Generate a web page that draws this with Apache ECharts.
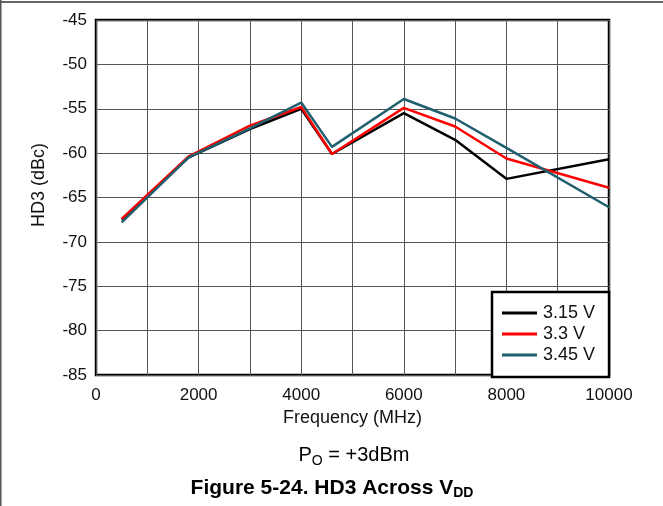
<!DOCTYPE html>
<html>
<head>
<meta charset="utf-8">
<script src="https://cdn.jsdelivr.net/npm/echarts@6/dist/echarts.min.js"></script>
<style>
html,body{margin:0;padding:0;background:#fff;}
#chart{width:663px;height:506px;}
</style>
</head>
<body>
<div id="chart"></div>
<script>
// Data
const freqMHz = [500, 1800, 3000, 4000, 4600, 6000, 7000, 8000, 10000];
const hd3_315 = [-67.5, -60.5, -57.3, -55.0, -60.1, -55.5, -58.5, -62.9, -60.7];
const hd3_330 = [-67.4, -60.4, -56.9, -54.8, -60.1, -54.9, -57.0, -60.6, -63.9];
const hd3_345 = [-67.8, -60.5, -57.2, -54.3, -59.3, -53.9, -56.1, -59.4, -66.1];
const seriesNames = ['3.15 V', '3.3 V', '3.45 V'];
const xTickLabels = [0, 2000, 4000, 6000, 8000, 10000];
const yTickLabels = [-85, -80, -75, -70, -65, -60, -55, -50, -45];

const colors = ['#000000', '#ff0000', '#1f5f6e'];
const font = '"Liberation Sans", Arial, sans-serif';

function pairs(ys) { return freqMHz.map((x, i) => [x, ys[i]]); }

const chart = echarts.init(document.getElementById('chart'), null, {renderer: 'canvas'});
const option = {
  animation: false,
  backgroundColor: '#fff',
  textStyle: {fontFamily: font},
  grid: {left: 96, right: 54, top: 20, bottom: 131, show: true,
         borderColor: '#000', borderWidth: 2.5, backgroundColor: 'transparent'},
  xAxis: {
    type: 'value', min: 0, max: 10000, interval: 1000,
    axisLine: {show: false}, axisTick: {show: false},
    splitLine: {show: true, lineStyle: {color: '#555', width: 1}},
    axisLabel: {
      fontFamily: font, fontSize: 17, color: '#111', margin: 12,
      formatter: v => xTickLabels.indexOf(v) >= 0 ? String(v) : ''
    },
    name: 'Frequency (MHz)', nameLocation: 'middle', nameGap: 31,
    nameTextStyle: {fontFamily: font, fontSize: 18, color: '#111'}
  },
  yAxis: {
    type: 'value', min: -85, max: -45, interval: 5,
    axisLine: {show: false}, axisTick: {show: false},
    splitLine: {show: true, lineStyle: {color: '#555', width: 1}},
    axisLabel: {
      fontFamily: font, fontSize: 17, color: '#111', margin: 9,
      formatter: v => yTickLabels.indexOf(v) >= 0 ? String(v) : ''
    }
  },
  legend: {
    orient: 'vertical', left: 492, top: 292,
    backgroundColor: '#fff', borderColor: '#000', borderWidth: 2.5,
    padding: [11, 14, 12, 10], itemGap: 1,
    itemWidth: 35, itemHeight: 3, icon: 'rect',
    textStyle: {fontFamily: font, fontSize: 18, lineHeight: 20, color: '#111', padding: [0, 0, 0, 1]},
    data: seriesNames
  },
  series: [hd3_315, hd3_330, hd3_345].map((ys, i) => ({
    name: seriesNames[i], type: 'line', data: pairs(ys),
    showSymbol: false, symbol: 'none',
    lineStyle: {color: colors[i], width: 2.5},
    itemStyle: {color: colors[i]},
    z: 2 + i
  })),
  graphic: [
    {type: 'line', shape: {x1: 0, y1: 2, x2: 663, y2: 2}, style: {stroke: '#333', lineWidth: 1.5}},
    {type: 'line', shape: {x1: 0.75, y1: 0, x2: 0.75, y2: 506}, style: {stroke: '#555', lineWidth: 1.5}},
    {type: 'text', x: 39, y: 185, rotation: Math.PI / 2,
     style: {text: 'HD3 (dBc)', font: '18px ' + font, fill: '#111', align: 'center', verticalAlign: 'middle'}},
    {type: 'text', x: 354, y: 455,
     style: {text: '{n|P}{s|O}{n| = +3dBm}', align: 'center', verticalAlign: 'middle',
       rich: {n: {fontFamily: font, fontSize: 20, color: '#111'},
              s: {fontFamily: font, fontSize: 14, color: '#111', padding: [12, 0, 0, 0]}}}},
    {type: 'text', x: 332, y: 488,
     style: {text: '{n|Figure 5-24. HD3 Across V}{s|DD}', align: 'center', verticalAlign: 'middle',
       rich: {n: {fontFamily: font, fontSize: 21, fontWeight: 'bold', color: '#111'},
              s: {fontFamily: font, fontSize: 14, fontWeight: 'bold', color: '#111', padding: [11, 0, 0, 0]}}}}
  ]
};
chart.setOption(option);
</script>
</body>
</html>
